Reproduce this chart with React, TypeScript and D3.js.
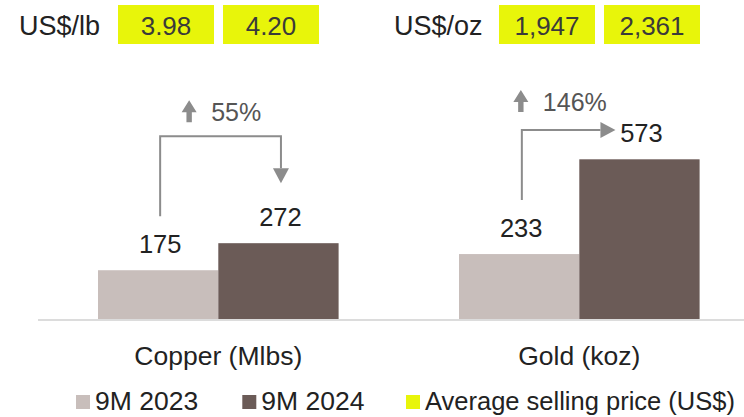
import React from 'react';
import * as d3 from 'd3';

// chart data
const metals = ['Copper (Mlbs)', 'Gold (koz)'];
const periods = ['9M 2023', '9M 2024'];
const copperOutput = [175, 272];
const goldOutput = [233, 573];
const changeLabels = ['55%', '146%'];
const priceUnits = ['US$/lb', 'US$/oz'];
const copperPrice = [3.98, 4.2];
const goldPrice = [1947, 2361];
const legendLabels = ['9M 2023', '9M 2024', 'Average selling price (US$)'];

const W = 744;
const H = 417;
const FONT = '"Liberation Sans", Arial, sans-serif';
const barColors = ['#c8bebb', '#6b5b57'];
const priceColor = '#e8f50a';
const arrowColor = '#8c8c8c';
const textColor = '#222';

const output = [copperOutput, goldOutput];
const priceText = [
  copperPrice.map(d => d3.format('.2f')(d)),
  goldPrice.map(d => d3.format(',')(d)),
];

const baseY = 319;
const y = d3.scaleLinear().domain([0, 573]).range([baseY, 159.3]);
const xGroup = d3.scalePoint<string>().domain(metals).range([218.3, 579.3]);
const xBar = d3.scaleBand<string>().domain(periods).range([-120.3, 120.3]).padding(0);

// thick "up" icon, 15 wide, 22 tall
const upIcon = (cx: number, top: number) =>
  `M${cx},${top} L${cx + 7.5},${top + 12} L${cx + 2.7},${top + 12} L${cx + 2.7},${top + 22} ` +
  `L${cx - 2.7},${top + 22} L${cx - 2.7},${top + 12} L${cx - 7.5},${top + 12} Z`;

const Panel = ({ i }: { i: number }) => {
  const metal = metals[i];
  const vals = output[i];
  const gx = xGroup(metal)!;
  const bw = xBar.bandwidth();
  const cx = periods.map(p => gx + xBar(p)! + bw / 2);
  const labelY = vals.map(v => y(v) - 17);

  let bracket = null;
  if (i === 0) {
    const x1 = cx[0] + 2;
    const x2 = cx[1] + 2.5;
    const top = Math.min(...labelY) - 90;
    const tip = labelY[1] - 43;
    bracket = (
      <g>
        <path d={`M${x1},${labelY[0] - 37} V${top} H${x2} V${tip - 15}`}
          fill="none" stroke={arrowColor} strokeWidth={2} />
        <path d={`M${x2 - 8},${tip - 15} L${x2 + 8},${tip - 15} L${x2},${tip} Z`} fill={arrowColor} />
        <path d={upIcon(x1 + 29, top - 36)} fill={arrowColor} />
        <text x={x1 + 51} y={top - 15} fontSize={25} fill="#555">{changeLabels[i]}</text>
      </g>
    );
  } else {
    const x1 = cx[0] + 2.7;
    const top = labelY[1] - 12.3;
    const tipX = cx[1] - 24;
    bracket = (
      <g>
        <path d={`M${x1},${labelY[0] - 37} V${top} H${tipX - 15}`}
          fill="none" stroke={arrowColor} strokeWidth={2} />
        <path d={`M${tipX - 15},${top - 8} L${tipX - 15},${top + 8} L${tipX},${top} Z`} fill={arrowColor} />
        <path d={upIcon(x1 - 1, top - 40)} fill={arrowColor} />
        <text x={x1 + 21} y={top - 19} fontSize={25} fill="#555">{changeLabels[i]}</text>
      </g>
    );
  }

  return (
    <g>
      {periods.map((p, j) => (
        <rect key={p} x={gx + xBar(p)!} y={y(vals[j])} width={bw} height={baseY - y(vals[j])}
          fill={barColors[j]} />
      ))}
      {vals.map((v, j) => (
        <text key={j} x={cx[j] + 2} y={labelY[j]} textAnchor="middle" fontSize={25.5} fill={textColor}>
          {v}
        </text>
      ))}
      {bracket}
      <text x={gx} y={365} textAnchor="middle" fontSize={26.5} fill={textColor}>{metal}</text>
    </g>
  );
};

const headerX = [19, 394];
const boxX = [118, 499];

export default function App() {
  return (
    <svg width={W} height={H} fontFamily={FONT}
      style={{ position: 'absolute', left: 0, top: 0, display: 'block', background: '#fff' }}>
      {priceUnits.map((u, i) => (
        <g key={u}>
          <text x={headerX[i]} y={35} fontSize={27} fill={textColor}>{u}</text>
          {priceText[i].map((t, j) => (
            <g key={j}>
              <rect x={boxX[i] + j * 105} y={5} width={96} height={39} fill={priceColor} />
              <text x={boxX[i] + j * 105 + 48} y={35} textAnchor="middle" fontSize={26} fill="#3a3a3a">{t}</text>
            </g>
          ))}
        </g>
      ))}
      <line x1={38} x2={W} y1={320} y2={320} stroke="#dcdcdc" strokeWidth={2} />
      {metals.map((m, i) => <Panel key={m} i={i} />)}
      {legendLabels.map((l, i) => {
        const lx = [76, 242.3, 406][i];
        return (
          <g key={l}>
            <rect x={lx} y={395} width={14} height={14} fill={[...barColors, priceColor][i]} />
            <text x={lx + 19} y={410} fontSize={i === 2 ? 25.5 : 26.5} fill={textColor}>{l}</text>
          </g>
        );
      })}
    </svg>
  );
}
